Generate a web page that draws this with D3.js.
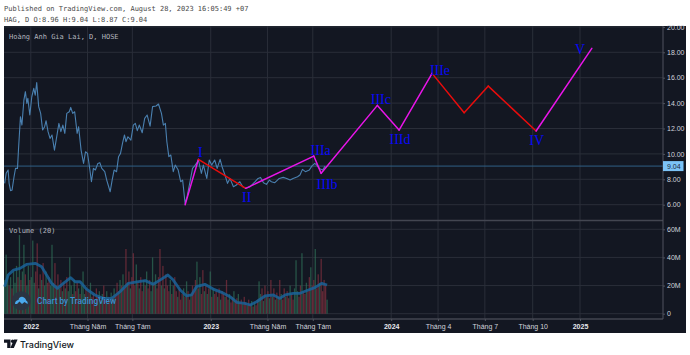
<!DOCTYPE html>
<html>
<head>
<meta charset="utf-8">
<script src="https://cdn.jsdelivr.net/npm/d3@7"></script>
<style>
html, body { margin: 0; padding: 0; background: #fff; }
svg { display: block; }
.mono { font-family: "DejaVu Sans Mono", monospace; font-size: 7px; }
.axis text { font-family: "Liberation Sans", Arial, sans-serif; font-size: 7px; fill: #d1d4dc; }
</style>
</head>
<body>
<svg id="chart" width="690" height="355"></svg>
<script>
// x unit is "sessions" since the first bar on the chart
const priceBars = [0,3,7,9,12,15,19,22,26,28,32,35,39,42,45,47,51,55,59,62,65,69,73,77,81,84,88,92,96,101,105,110,114,118,122,126,131,134,138,142,147,150,155,160,164,168,172,176,180,184,189,193,197,203,207,214,218,222,227,231,235,239,243,246,250,256,261,265,269,273,279,284,289,295,300,307,312,318,322,326,329,333,337,342,346,352,357,361,366,370,376,381,385,389,393,399,403,410,415,420,426,431,437,441,448,452,457,464,470,477,483,489,498,508,514,519,525,531,537,541,548,557,565,572,579,585,594,599,604,610,618,623,629,633,638,645,650];
const priceValues = [7.68,8.47,8.73,7.68,7.10,7.15,8.20,8.86,8.86,10.30,12.93,12.27,14.24,14.90,13.98,14.37,13.06,14.50,15.16,14.63,15.61,13.72,13.19,11.88,12.14,12.61,11.75,11.22,11.49,10.30,11.22,12.40,11.75,12.27,11.62,13.19,13.32,13.66,13.19,13.32,11.62,12.14,10.30,9.25,10.17,10.04,8.99,7.81,8.86,8.73,9.25,9.31,8.86,8.60,7.94,7.02,7.94,8.73,8.60,9.78,10.04,10.83,11.49,10.96,11.35,11.09,12.27,12.40,11.83,12.27,11.67,12.80,13.06,12.19,13.72,13.77,13.93,13.19,12.27,12.40,10.96,9.78,9.91,8.60,9.12,8.73,7.81,7.94,6.10,6.63,7.81,8.86,9.04,9.25,9.52,8.47,9.12,8.07,9.52,9.12,9.52,8.86,9.57,8.99,8.20,7.68,8.07,7.42,7.55,7.81,7.42,7.29,7.42,7.81,8.07,8.15,7.73,7.60,7.94,7.81,7.73,8.07,8.15,8.07,7.94,8.07,8.20,8.34,8.78,8.60,8.73,9.04,9.25,9.12,8.86,8.73,9.04];
const lastClose = 9.04;

// one volume bar every 3 sessions, in millions
const volumeStep = 3;
const volumes = [
  24,42,28,20,26,18,30,22,34,26,56,24,30,49,28,20,34,24,26,52,
  22,30,50,18,28,24,36,20,30,22,26,20,49,22,36,20,28,18,24,16,
  22,18,26,16,40,20,14,24,16,22,18,14,20,30,14,18,12,16,22,12,
  14,10,18,12,16,10,14,20,11,16,12,9,15,12,18,14,22,16,24,20,
  28,18,46,22,30,18,26,43,20,35,22,18,26,16,24,20,30,18,24,16,
  40,22,28,18,26,46,20,34,18,28,20,16,24,14,20,26,16,12,18,10,
  14,18,12,23,16,10,14,20,16,24,37,18,26,14,31,16,20,14,18,30,
  12,18,14,16,12,18,10,16,14,12,24,10,14,8,12,16,9,11,14,8,
  10,7,12,8,6,10,7,9,5,8,6,10,23,14,18,9,20,12,16,11,
  24,12,18,10,15,12,24,14,10,18,12,16,11,20,14,10,18,38,16,12,
  20,43,16,14,22,16,26,33,20,24,46,18,28,22,39,16,24,20,10];
const volumeSide = ("gggrgrgggrgrggrggrgg" + "grrgrgrggrrgggrgrgrg" + "rgrgggrgrrgrgggrgrgr" +
  "rgrrgrgrrgrrgrgrrrgr" + "grrgrgrrrgrgrrgrgrrg" + "grgrrrgrgrrrgrgrrgrr" +
  "rgrgrrgrrrgrgrrgrgrg" + "rgrrgrgrrgrrgrrgrrgr" + "rgrrgrrgrgrrggrgrgrg" +
  "rgrgrgrgrrgrrgrrgggr" + "rgrrgrrgrrgrrgrrrrg").split("");

const maBars = [0,7,18,31,45,62,75,85,95,107,119,134,143,153,166,183,200,217,234,251,268,285,301,315,331,342,356,369,379,389,406,423,440,457,471,487,498,511,528,545,558,569,585,599,616,629,643,654];
const maValues = [19.2,27.5,31.0,32.2,35.1,35.8,33.4,27.5,21.6,18.0,21.6,25.6,22.7,22.7,17.5,13.3,10.9,10.9,15.6,21.6,22.7,23.5,20.9,23.9,27.5,23.9,16.8,12.6,13.3,19.2,20.9,17.5,15.2,12.1,8.1,7.3,6.2,8.5,12.6,13.3,10.9,13.3,14.5,14.5,16.8,18.5,21.6,20.4];

// wave drawing, consecutive pieces
const waveBars = [366,393,489,627,642,756,800,867,932,981,1078,1191];
const wavePrices = [6.0,9.57,7.29,9.83,8.47,13.82,11.88,16.34,13.24,15.34,11.80,18.31];
const waveColors = ["#e815e8","#e80c0c","#e815e8","#e815e8","#e815e8","#e815e8","#e815e8","#e80c0c","#e80c0c","#e80c0c","#e815e8"];

const waveLabels = ["I","II","IIIa","IIIb","IIIc","IIId","IIIe","IV","V"];
const waveLabelBars = [397,491,641,654,763,802,883,1079,1167];
const waveLabelPrices = [10.09,6.58,10.25,7.60,14.32,11.17,16.58,11.04,18.23];

const timeTickBars = [53,168,259,418,533,625,784,879,974,1071,1167];
const timeTickLabels = ["2022","Tháng Năm","Tháng Tám","2023","Tháng Năm","Tháng Tám","2024","Tháng 4","Tháng 7","Tháng 10","2025"];
const yearTicks = ["2022","2023","2024","2025"];
const priceTicks = [6,8,10,12,14,16,18,20];
const volumeTicks = [0,20,40,60];

const svg = d3.select("#chart");
const panelLeft = 4, panelRight = 686, panelTop = 26, panelBottom = 333, axisX = 663, paneSplit = 220.5, timeY = 319;

const x = d3.scaleLinear().domain([0, 1167]).range([4.67, 580]);
const yPrice = d3.scaleLinear().domain([6, 20]).range([204.7, 26.9]);
const yVol = d3.scaleLinear().domain([0, 60]).range([313.7, 229.3]);

// header text on the white part
svg.append("text").attr("class", "mono").attr("x", 4).attr("y", 11).attr("fill", "#4a4a4a")
  .text("Published on TradingView.com, August 28, 2023 16:05:49 +07");
svg.append("text").attr("class", "mono").attr("x", 4).attr("y", 22).attr("fill", "#4a4a4a")
  .text("HAG, D O:8.96 H:9.04 L:8.87 C:9.04");

svg.append("rect").attr("x", panelLeft).attr("y", panelTop).attr("width", panelRight - panelLeft).attr("height", panelBottom - panelTop).attr("fill", "#131722");

const defs = svg.append("defs");
defs.append("clipPath").attr("id", "pricePane").append("rect")
  .attr("x", panelLeft).attr("y", panelTop).attr("width", axisX - panelLeft).attr("height", paneSplit - panelTop);

// grid
const grid = svg.append("g").attr("stroke", "#2a2e39").attr("stroke-width", 1);
grid.selectAll(".vg").data(timeTickBars).enter().append("line")
  .attr("x1", d => x(d)).attr("x2", d => x(d)).attr("y1", panelTop).attr("y2", timeY);
grid.selectAll(".hp").data(priceTicks).enter().append("line")
  .attr("x1", panelLeft).attr("x2", axisX).attr("y1", d => yPrice(d)).attr("y2", d => yPrice(d));
grid.selectAll(".hv").data(volumeTicks).enter().append("line")
  .attr("x1", panelLeft).attr("x2", axisX).attr("y1", d => yVol(d)).attr("y2", d => yVol(d));

// volume bars
svg.append("g").selectAll("rect").data(volumes).enter().append("rect")
  .attr("x", (d, i) => x(i * volumeStep) - 0.65)
  .attr("width", 1.3)
  .attr("y", d => yVol(d))
  .attr("height", d => yVol(0) - yVol(d))
  .attr("fill", (d, i) => volumeSide[i] == "g" ? "#2f7259" : "#86303f")
  .attr("opacity", 0.68);

// volume average
const maLine = d3.line().x((d, i) => x(maBars[i])).y(d => yVol(d));
svg.append("path").attr("d", maLine(maValues)).attr("fill", "none")
  .attr("stroke", "#1a6399").attr("stroke-width", 2.8).attr("stroke-linejoin", "round").attr("opacity", 0.85);

// watermark
const mark = svg.append("g");
mark.append("circle").attr("cx", 21.3).attr("cy", 300.7).attr("r", 9.5).attr("fill", "#2a3442").attr("opacity", 0.95);
mark.append("path").attr("transform", "translate(15,296)")
  .attr("d", "M0 8 C0 5 2 4 3.5 4 C4 1 7 0 9 1.5 C10.5 2.5 11 3.5 11 4.5 C12.5 5 13 6.5 12.5 8 L9.5 6 L7 8 L4.5 5.5 L2 8 Z")
  .attr("fill", "#4aa8ec");
mark.append("text").attr("x", 37).attr("y", 303.7).attr("fill", "#3a8fd0")
  .attr("font-family", "Roboto, sans-serif").attr("font-weight", 500).attr("font-size", "8.3px")
  .text("Chart by TradingView");

// last price line
svg.append("line").attr("x1", panelLeft).attr("x2", axisX)
  .attr("y1", yPrice(lastClose)).attr("y2", yPrice(lastClose))
  .attr("stroke", "#2f5f85").attr("stroke-width", 1);

// price line
const priceLine = d3.line().x((d, i) => x(priceBars[i])).y(d => yPrice(d));
svg.append("path").attr("d", priceLine(priceValues)).attr("fill", "none")
  .attr("stroke", "#4a80b0").attr("stroke-width", 1.1).attr("stroke-linejoin", "round");

// wave pieces
svg.append("g").attr("clip-path", "url(#pricePane)").selectAll("line").data(waveColors).enter().append("line")
  .attr("x1", (d, i) => x(waveBars[i])).attr("y1", (d, i) => yPrice(wavePrices[i]))
  .attr("x2", (d, i) => x(waveBars[i + 1])).attr("y2", (d, i) => yPrice(wavePrices[i + 1]))
  .attr("stroke", d => d).attr("stroke-width", 1.5).attr("stroke-linecap", "round");

svg.append("g").selectAll("text").data(waveLabels).enter().append("text")
  .attr("x", (d, i) => x(waveLabelBars[i]))
  .attr("y", (d, i) => yPrice(waveLabelPrices[i]))
  .attr("text-anchor", "middle").attr("dominant-baseline", "central")
  .attr("font-family", "'Liberation Serif', serif").attr("font-size", "14px").attr("fill", "#0808f5")
  .text(d => d);

svg.append("text").attr("class", "mono").attr("x", 9).attr("y", 39).attr("fill", "#b2b5be").text("Hoàng Anh Gia Lai, D, HOSE");
svg.append("text").attr("class", "mono").attr("x", 9).attr("y", 233).attr("fill", "#b2b5be").text("Volume (20)");

// pane borders
svg.append("line").attr("x1", panelLeft).attr("x2", axisX).attr("y1", paneSplit).attr("y2", paneSplit).attr("stroke", "#434651").attr("stroke-width", 1.5);
svg.append("line").attr("x1", panelLeft).attr("x2", axisX).attr("y1", timeY).attr("y2", timeY).attr("stroke", "#434651").attr("stroke-width", 1.5);
svg.append("line").attr("x1", axisX).attr("x2", axisX).attr("y1", panelTop).attr("y2", timeY).attr("stroke", "#50535e").attr("stroke-width", 1);

// axes
const priceAxis = svg.append("g").attr("class", "axis").attr("transform", `translate(${axisX},0)`)
  .call(d3.axisRight(yPrice).tickValues(priceTicks).tickSize(2).tickPadding(2).tickFormat(d3.format(".2f")));
const volAxis = svg.append("g").attr("class", "axis").attr("transform", `translate(${axisX},0)`)
  .call(d3.axisRight(yVol).tickValues(volumeTicks).tickSize(2).tickPadding(2).tickFormat(d => d ? d + "M" : "0"));
const timeAxis = svg.append("g").attr("class", "axis").attr("transform", `translate(0,${timeY})`)
  .call(d3.axisBottom(x).tickValues(timeTickBars).tickSize(2).tickPadding(3).tickFormat((d, i) => timeTickLabels[i]));
[priceAxis, volAxis, timeAxis].forEach(a => {
  a.select(".domain").remove();
  a.selectAll("line").attr("stroke", "#50535e");
});
timeAxis.selectAll("text").filter(function () { return yearTicks.includes(this.textContent); })
  .attr("font-weight", "bold").style("fill", "#e6e8ee");

// last price tag
const tag = svg.append("g");
tag.append("rect").attr("x", axisX).attr("y", yPrice(lastClose) - 5).attr("width", 20.5).attr("height", 10).attr("fill", "#7cc3f7");
tag.append("text").attr("x", axisX + 4).attr("y", yPrice(lastClose)).attr("dominant-baseline", "central")
  .attr("font-family", "'Liberation Sans', Arial, sans-serif").attr("font-size", "7px").attr("fill", "#1c2b3a")
  .text(lastClose.toFixed(2));

// footer logo
const logo = svg.append("g").attr("fill", "#131722");
logo.append("path").attr("d", "M4 339.5 H10.5 V348 H7.2 V342.8 H4 Z");
logo.append("circle").attr("cx", 12.6).attr("cy", 341.2).attr("r", 1.7);
logo.append("path").attr("d", "M14 339.5 H17.6 L13.8 348 H10.3 Z");
svg.append("text").attr("x", 20).attr("y", 347.5).attr("fill", "#131722")
  .attr("font-family", "Inter, sans-serif").attr("font-weight", 500).attr("font-size", "9px")
  .text("TradingView");
</script>
</body>
</html>
